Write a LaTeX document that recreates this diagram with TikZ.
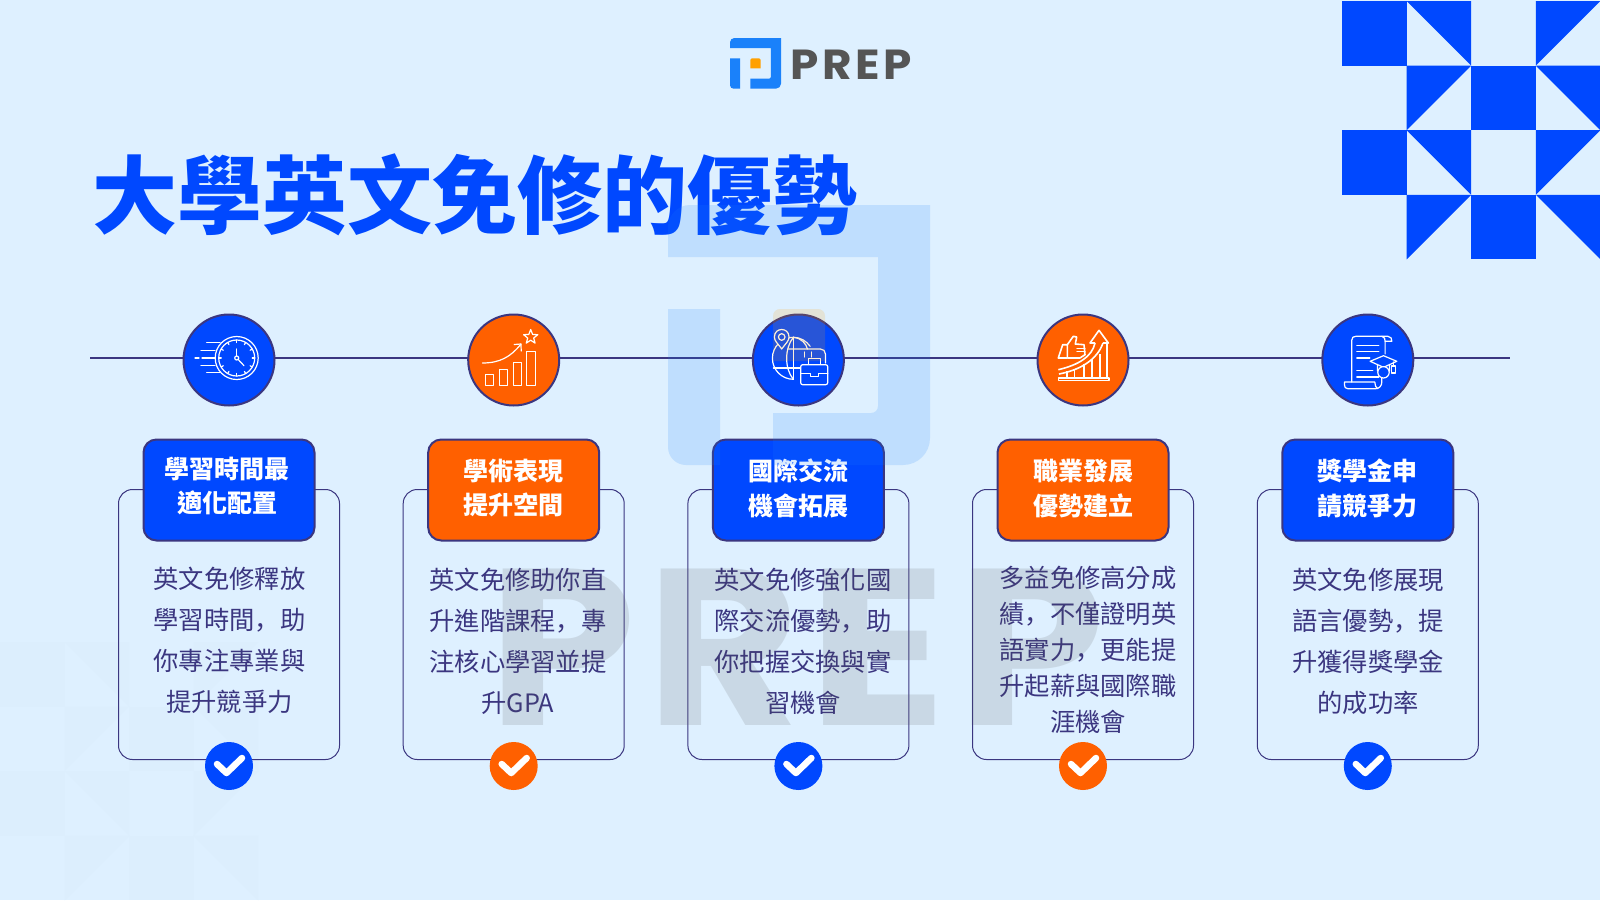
\documentclass[tikz,border=0pt]{standalone}
\usepackage{fontspec}
\setmainfont{Noto Sans CJK TC}
\newfontfamily\jpfont{Noto Sans CJK JP}
\newfontfamily\headfont{Noto Sans CJK TC Black}
\newfontfamily\logofont[FakeStretch=1.08]{Poppins}
\newfontfamily\bigfont[FakeStretch=1.06]{Poppins}
\newfontfamily\bigwide[FakeStretch=1.16]{Poppins}
\usepackage{tikz}
\usetikzlibrary{calc}
\definecolor{prepblue}{HTML}{0048FF}
\definecolor{prepfire}{HTML}{FF6000}
\definecolor{prepink}{HTML}{3B3680}
\definecolor{prepsky}{HTML}{DEF0FF}
\definecolor{prepfaint}{HTML}{DCEEFD}
\definecolor{prepazure}{HTML}{1A81FA}
\definecolor{prepamber}{HTML}{FFA000}
\definecolor{prepgrey}{HTML}{555555}
\newcommand{\dou}{{\jpfont ，}}
\tikzset{
  every node/.style={inner sep=0pt},
  hub/.style={circle,draw=prepink,line width=2pt,minimum size=91pt},
  cardbox/.style={rectangle,draw=prepink,line width=1pt,rounded corners=14pt,minimum width=221pt,minimum height=270pt},
  headbox/.style={rectangle,draw=prepink,line width=2pt,rounded corners=13pt,minimum width=171pt,minimum height=101pt},
  headtext/.style={text=white,align=center,font=\fontsize{25}{34.5}\selectfont\bfseries},
  bodytext/.style={text=prepink,align=center},
  tickdot/.style={circle,minimum size=48pt},
  tickmark/.style={draw=white,line width=6.5pt,line cap=round,line join=round},
  iconline/.style={draw=white,line width=1.2pt,line cap=round,line join=round},
  iconbold/.style={draw=white,line width=1.6pt,line join=round},
  bigletter/.style={anchor=base west,text=prepgrey,text opacity=.15,font=\bigfont\bfseries\fontsize{223}{223}\selectfont},
  tile block/.pic={
    \foreach \row in {0,2}
    {
      \fill (0,\row) rectangle (1,\row+1);
      \fill (1,\row) -- (2,\row) -- (2,\row+1) -- cycle;
      \fill (3,\row) -- (4,\row) -- (3,\row+1) -- cycle;
      \fill (1,\row+1) -- (2,\row+1) -- (1,\row+2) -- cycle;
      \fill (2,\row+1) rectangle (3,\row+2);
      \fill (3,\row+1) -- (4,\row+1) -- (4,\row+2) -- cycle;
    }
  },
  prep mark/.pic={
    \fill[prepazure] (0,52) -- (0,22) .. controls (0,10) and (10,0) .. (22,0) -- (262,0) -- (262,233)
      .. controls (262,248) and (250,260) .. (235,260) -- (105,260) -- (105,208) -- (203,208)
      .. controls (207,208) and (210,205) .. (210,201) -- (210,52) -- cycle;
    \fill[prepazure] (0,104) -- (52,104) -- (52,260) -- (18,260)
      .. controls (8,260) and (0,252) .. (0,242) -- cycle;
    \fill[prepamber] (105,111) .. controls (105,107) and (108,104) .. (112,104) -- (150,104)
      .. controls (154,104) and (157,107) .. (157,111) -- (157,156) -- (105,156) -- cycle;
  },
  clock icon/.pic={
    \draw[iconline] (7.7,-2) circle[radius=21.5];
    \draw[iconline] (7.7,-2) circle[radius=18];
    \foreach \ang in {0,30,...,330}
    {
      \draw[iconline] ($(7.7,-2)+(\ang:18)$) -- ($(7.7,-2)+(\ang:15.5)$);
    }
    \draw[iconline] (7.7,-11) -- (7.7,-4);
    \draw[iconline] (9,-0.7) -- (15,5.7);
    \draw[iconline] (7.7,-2) circle[radius=2];
    \foreach \yy/\xa/\xb in {-17.3/-22.3/-9, -9.3/-28/-14, -2/-27/-14, 5.3/-28/-14, 12.7/-22.3/-9, -2/-34/-30}
    {
      \draw[iconline] (\xa,\yy) -- (\xb,\yy);
    }
  },
  bars icon/.pic={
    \foreach \xa/\xb/\yy in {-28.3/-20/14.7, -14.3/-6/9.7, -0.3/7.7/2.3, 13/21.7/-8.7}
    {
      \draw[iconline] (\xa,\yy) rectangle (\xb,25.3);
    }
    \draw[iconline] (-31.3,3) .. controls (-14,3) and (-3,-3) .. (7.3,-16);
    \draw[iconline] (0.5,-15.5) -- (7.3,-16) -- (7.5,-9);
    \draw[iconline] (17,-30.5) -- (18.9,-25.6) -- (24.1,-25.3) -- (20,-22) -- (21.4,-16.9)
      -- (17,-19.8) -- (12.6,-16.9) -- (14,-22) -- (9.9,-25.3) -- (15.1,-25.6) -- cycle;
  },
  globe icon/.pic={
    \draw[iconline] (-5,-22.7) arc[start angle=-90,end angle=-270,radius=21];
    \draw[iconline] (-5,-22.7) .. controls (2,-22.7) and (8,-19) .. (11.7,-13.7);
    \draw[iconline] (-5,-22.7) .. controls (-14,-12) and (-14,9) .. (-5,19.3);
    \draw[iconline] (-5,-22.7) -- (-5,19.3);
    \draw[iconline] (-5,-22.7) .. controls (3,-22) and (8,-16) .. (9,-11);
    \draw[iconline] (-25,8) -- (2,8);
    \draw[iconline] (-10,-11) -- (22,-11) .. controls (25,-11) and (27,-9) .. (27,-6) -- (27,3);
    \draw[iconline] (5.7,-8) -- (5.7,-3);
    \draw[iconline] (13.3,-8) -- (13.3,-3);
    \draw[iconline,fill=prepblue] (-16.7,-11) .. controls (-21,-17) and (-24,-19) .. (-24,-23)
      .. controls (-24,-33) and (-9.4,-33) .. (-9.4,-23) .. controls (-9.4,-19) and (-12.4,-17) .. cycle;
    \draw[iconline] (-16.7,-23) circle[radius=3.3];
    \draw[iconline] (10,4.7) -- (10,-1.3) -- (22,-1.3) -- (22,4.7);
    \draw[iconline,fill=prepblue,rounded corners=2pt] (2.3,4.7) rectangle (29.3,24.7);
    \draw[iconline] (2.3,13.7) -- (12,13.7) -- (12,16.5) -- (20,16.5) -- (20,13.7) -- (29.3,13.7);
  },
  thumb icon/.pic={
    \draw[iconbold] (-24.7,-2) -- (-20.3,-15.3) -- (-15.7,-15.3) -- (-15.7,-2) -- cycle;
    \draw[iconbold] (-15.7,-15.3) -- (-9.7,-23.7) -- (-6.3,-23) -- (-7.7,-16) -- (1,-15.3)
      -- (2,-5.3) -- (-3,-2) -- (-15.7,-2);
    \draw[iconline] (-6,-11.7) -- (2,-11.7);
    \draw[iconline] (-6,-8.3) -- (2,-8.3);
    \draw[iconbold] (-24.7,18) rectangle (26,20.5);
    \draw[iconbold] (-24.7,9.7) .. controls (-5,5) and (9,-3) .. (12,-17);
    \draw[iconbold] (-24,14) .. controls (-3,10) and (14,0) .. (20,-17);
    \draw[iconbold] (12,-17) -- (7,-17) -- (16,-29.7) -- (25.3,-17) -- (20,-17);
    \foreach \xx/\yy in {-16/11, -8.7/9, 1/4, 8.7/-1, 17/-6, 23.7/-16}
    {
      \draw[iconbold] (\xx,\yy) -- (\xx,18);
    }
  },
  scroll icon/.pic={
    \draw[iconline] (-16,22) -- (-16,-20) .. controls (-16,-22.5) and (-14.5,-23.7) .. (-12,-23.7) -- (20,-23.7)
      .. controls (23,-23.7) and (24.5,-21) .. (24,-18.7) -- (17.3,-18.7);
    \draw[iconline] (14,-23.7) .. controls (17,-23) and (17.3,-21) .. (17.3,-18.7) -- (17.3,-6);
    \draw[iconline] (14,16) -- (14,22) .. controls (14,25) and (12,28.7) .. (8,28.7) -- (-20,28.7)
      .. controls (-22.5,28.7) and (-23.3,27) .. (-23.3,25) -- (-23.3,22) -- (7,22)
      .. controls (7,25) and (8,28) .. (10,28.7);
    \foreach \yy/\xx in {-14.7/11, -8.7/11, -2/2, 10.3/5, 17/11}
    {
      \draw[iconline] (-11,\yy) -- (\xx,\yy);
    }
    \draw[iconline,fill=prepblue] (15.7,-4.3) -- (29,1.3) -- (15.7,7.3) -- (2.3,1.3) -- cycle;
    \draw[iconline] (9.7,4.5) -- (9.7,11) .. controls (12,8.5) and (19,8.5) .. (21.7,11) -- (21.7,4.5);
    \draw[iconline,fill=prepblue] (15.7,12.3) circle[radius=5.7];
    \draw[iconline] (25.7,2) -- (25.7,6);
    \draw[iconline] (24,6) rectangle (27.5,13);
  },
}
\begin{document}
\begin{tikzpicture}[x=1pt,y=-1pt]
\useasboundingbox (0,0) rectangle (1600,900);
\fill[prepsky] (0,0) rectangle (1600,900);
% corner patterns
\begin{scope}[shift={(1342,1)},x=64.6pt,y=-64.6pt,fill=prepblue]
  \pic {tile block};
\end{scope}
\begin{scope}[shift={(0,642)},x=64.6pt,y=-64.6pt,fill=prepfaint]
  \pic {tile block};
\end{scope}
% timeline
\coordinate (line start) at (90,358);
\coordinate (line end) at (1510,358);
\draw[prepink,line width=2.8pt] (line start) -- (line end);
% the five columns
\foreach \idx/\cx/\col/\icon/\head/\hx/\hy/\body/\bx/\by/\gap in {
  1/229/prepblue/clock icon/{學習時間最\\適化配置}/227/486/{英文免修釋放\\學習時間\dou 助\\你專注專業與\\提升競爭力}/229.5/640/41,
  2/513.7/prepfire/bars icon/{學術表現\\提升空間}/513.7/488/{英文免修助你直\\升進階課程\dou 專\\注核心學習並提\\升GPA}/518/641.5/41,
  3/798.4/prepblue/globe icon/{國際交流\\機會拓展}/798.4/488.5/{英文免修強化國\\際交流優勢\dou 助\\你把握交換與實\\習機會}/803/641/41,
  4/1083/prepfire/thumb icon/{職業發展\\優勢建立}/1083/488.5/{多益免修高分成\\績\dou 不僅證明英\\語實力\dou 更能提\\升起薪與國際職\\涯機會}/1088/650/36,
  5/1367.8/prepblue/scroll icon/{獎學金申\\請競爭力}/1367.8/488.5/{英文免修展現\\語言優勢\dou 提\\升獲得獎學金\\的成功率}/1368/641/41}
{
  \node[cardbox] (card\idx) at (\cx,624.5) {};
  \node[headbox,fill=\col] (head\idx) at (\cx,490) {};
  \node[headtext] (title\idx) at (\hx,\hy) {\head};
  \node[bodytext,font=\fontsize{25.3}{\gap}\selectfont] (text\idx) at (\bx,\by) {\body};
  \node[hub,fill=\col] (hub\idx) at (\cx,360) {};
  \pic at (hub\idx.center) {\icon};
  \node[tickdot,fill=\col] (tick\idx) at (\cx,766) {};
  \draw[tickmark] ([shift={(-12,-2)}]tick\idx.center) -- ([shift={(-2.5,7)}]tick\idx.center) -- ([shift={(13,-8)}]tick\idx.center);
}
% heading and logo
\node[anchor=west,text=prepblue,font=\headfont\fontsize{85}{85}\selectfont] (heading) at (92,195) {大學英文免修的優勢};
\pic[scale=.195] at (730,38) {prep mark};
\node[anchor=base west,text=prepgrey,font=\logofont\bfseries\fontsize{42}{42}\selectfont] (logo text) at (790,79) {\addfontfeatures{LetterSpace=9}PREP};
% watermark
\pic[opacity=.155] at (668,205) {prep mark};
\node[bigletter] (big p) at (488,725) {P};
\node[bigletter] (big r) at (646,725) {R};
\node[bigletter,font=\bigwide\bfseries\fontsize{223}{223}\selectfont] (big e) at (807,725) {E};
\node[bigletter] (big q) at (957,725) {P};
\end{tikzpicture}
\end{document}
